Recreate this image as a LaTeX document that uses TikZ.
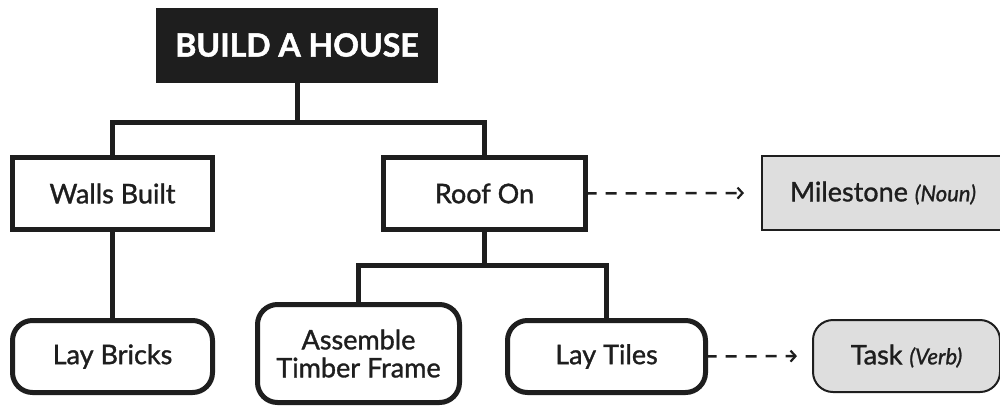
\documentclass[tikz,border=0pt]{standalone}
\usepackage{fontspec}
\setmainfont{Lato}
\newfontfamily\lblfont{Lato}[FakeBold=1.2]
\newfontfamily\ttlfont{Lato}[UprightFont=*, BoldFont=* Bold, BoldFeatures={FakeBold=1.5}]
\usetikzlibrary{arrows.meta}
\definecolor{ink}{HTML}{1E1E1E}
\definecolor{greyfill}{HTML}{DEDEDE}
\newcommand\mynotefont{\fontsize{22}{24}\selectfont\itshape}
\begin{document}
\begin{tikzpicture}[x=1pt,y=-1pt,
  every node/.style={inner sep=0pt, outer sep=0pt, text=ink, align=center},
  titlebox/.style={fill=ink, draw=none, text=white, font=\ttlfont\fontsize{32}{36}\selectfont\bfseries},
  msbox/.style={draw=ink, line width=5pt, fill=white, font=\lblfont\fontsize{27}{29}\selectfont},
  taskbox/.style={msbox, rounded corners=20pt},
  legendms/.style={draw=ink, line width=2pt, fill=greyfill, font=\lblfont\fontsize{27}{29}\selectfont},
  legendtask/.style={legendms, rounded corners=20pt},
  conn/.style={draw=ink, line width=5pt},
  dasharrow/.style={draw=ink, line width=2.5pt, dash pattern=on 11pt off 9pt, -{Straight Barb[length=5pt,width=11pt,line width=2.2pt]}}
]
\useasboundingbox (0,0) rectangle (1000,408);
\fill[white] (0,0) rectangle (1000,408);

\node[titlebox, minimum width=282pt, minimum height=75pt] (top) at (297,45) {BUILD A HOUSE};

\node[msbox, minimum width=200pt, minimum height=72pt] (walls) at (112.5,193.5) {Walls Built};
\node[msbox, minimum width=202pt, minimum height=72pt] (roof) at (484.5,193.5) {Roof On};
\node[legendms, minimum width=242pt, minimum height=74pt] (mile) at (883,193) {Milestone {\mynotefont (Noun)}};

\node[taskbox, minimum width=200pt, minimum height=72pt] (bricks) at (112.5,356.5) {Lay Bricks};
\node[taskbox, minimum width=202pt, minimum height=98pt] (asm) at (358.5,353.5) {Assemble\\[-1pt]Timber Frame};
\node[taskbox, minimum width=198pt, minimum height=72pt] (tiles) at (606.5,356.5) {Lay Tiles};
\node[legendtask, minimum width=187pt, minimum height=72pt] (task) at (906.5,356) {Task {\mynotefont (Verb)}};

\coordinate (bus1) at (297,122);
\coordinate (bus2) at (484.5,265);
\draw[conn] (top.south) -- (bus1);
\draw[conn] (walls.north) |- (bus1) -| (roof.north);
\draw[conn] (walls.south) -- (bricks.north);
\draw[conn] (roof.south) -- (bus2);
\draw[conn] (asm.north) |- (bus2) -| (tiles.north);

\draw[dasharrow, shorten >=18pt] (roof.east) -- (mile.west);
\draw[dasharrow, shorten >=16pt] (tiles.east) -- (task.west);
\end{tikzpicture}
\end{document}
